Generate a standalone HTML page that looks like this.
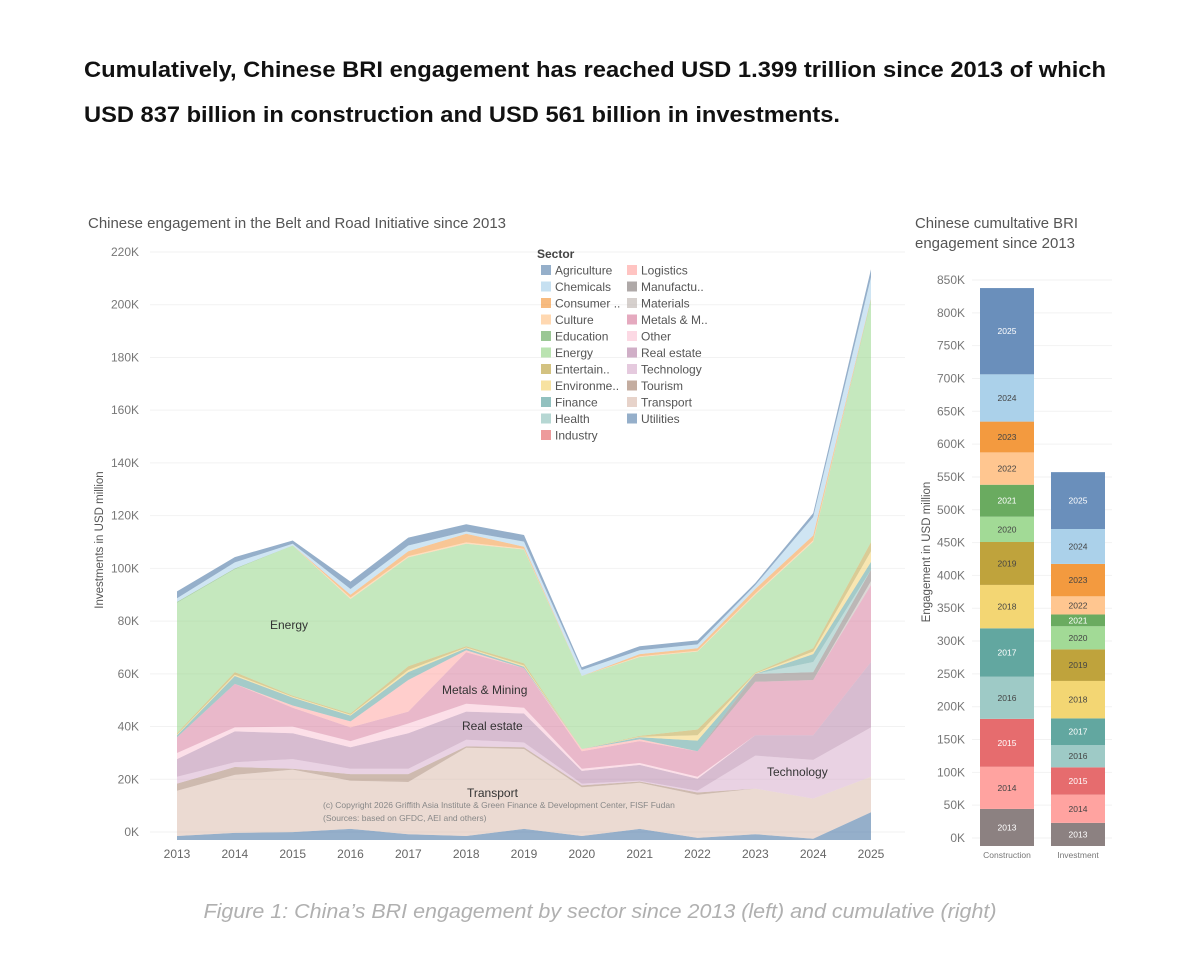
<!DOCTYPE html>
<html><head><meta charset="utf-8"><style>
html,body{margin:0;padding:0;background:#fff;}
svg{display:block;font-family:"Liberation Sans",sans-serif;}
</style></head><body>
<svg id="root" width="1200" height="955" viewBox="0 0 1200 955">
<text x="84" y="77" font-size="22" font-weight="bold" fill="#111" textLength="1022" lengthAdjust="spacingAndGlyphs">Cumulatively, Chinese BRI engagement has reached USD 1.399 trillion since 2013 of which</text>
<text x="84" y="122" font-size="22" font-weight="bold" fill="#111" textLength="756" lengthAdjust="spacingAndGlyphs">USD 837 billion in construction and USD 561 billion in investments.</text>
<text x="88" y="228" font-size="15" fill="#555" textLength="418" lengthAdjust="spacingAndGlyphs">Chinese engagement in the Belt and Road Initiative since 2013</text>
<text x="915" y="228" font-size="15" fill="#555" textLength="163" lengthAdjust="spacingAndGlyphs">Chinese cumultative BRI</text>
<text x="915" y="248" font-size="15" fill="#555" textLength="160" lengthAdjust="spacingAndGlyphs">engagement since 2013</text>
<text transform="translate(103,540) rotate(-90)" text-anchor="middle" font-size="11.5" fill="#555">Investments in USD million</text>
<text transform="translate(930,552) rotate(-90)" text-anchor="middle" font-size="11.5" fill="#555">Engagement in USD million</text>
<g id="left"></g>
<g id="right"></g>
<g id="legend"></g>
<text x="270" y="629" font-size="12" fill="#333">Energy</text>
<text x="442" y="694" font-size="12" fill="#333">Metals &amp; Mining</text>
<text x="462" y="730" font-size="12" fill="#333">Real estate</text>
<text x="467" y="797" font-size="12" fill="#333">Transport</text>
<text x="767" y="776" font-size="12" fill="#333">Technology</text>
<text x="323" y="808" font-size="8.5" fill="#888">(c) Copyright 2026 Griffith Asia Institute &amp; Green Finance &amp; Development Center, FISF Fudan</text>
<text x="323" y="821" font-size="8.5" fill="#888">(Sources: based on GFDC, AEI and others)</text>
<text x="600" y="918" text-anchor="middle" font-size="20" font-style="italic" fill="#b0b0b0" textLength="793" lengthAdjust="spacingAndGlyphs">Figure 1: China’s BRI engagement by sector since 2013 (left) and cumulative (right)</text>
</svg>
<script>
const years=[2013,2014,2015,2016,2017,2018,2019,2020,2021,2022,2023,2024,2025];
const yTicks=[0,20,40,60,80,100,120,140,160,180,200,220];
const sectorNames=["Agriculture","Chemicals","Consumer ..","Culture","Education","Energy","Entertain..","Environme..","Finance","Health","Industry","Logistics","Manufactu..","Materials","Metals & M..","Other","Real estate","Technology","Tourism","Transport","Utilities"];
const sectorColors=["#4e79a7","#a0cbe8","#f28e2b","#ffbe7d","#59a14f","#8cd17d","#b6992d","#f1ce63","#499894","#86bcb6","#e15759","#ff9d9a","#79706e","#bab0ac","#d37295","#fabfd2","#b07aa1","#d4a6c8","#9d7660","#d7b5a6","#4e79a7"];
const agriculture=[2.6,2,1.2,2.8,3,2.8,2.5,1,1.5,1.5,0.8,1.5,3];
const chemicals=[1.4,2.3,0.7,2.2,2.2,0.8,2,2.3,1.5,1.5,1.5,7,8];
const consumer=[0,0,0,1,1.8,3.3,0.7,0,0.8,0.9,1.7,1.8,0.2];
const culture=[0,0,0,0.6,0.5,0.5,0.3,0,0.3,0.3,0.5,0.5,0.2];
const education=[0.3,0.3,0,0,0,0,0,0,0,0,0,0,0.5];
const energy=[49.5,39,57,43.4,41.3,38.9,43.2,27.7,29.9,29.6,29.5,40.5,91.6];
const entertainment=[0.5,1,0.4,0.5,1.4,0.5,0.8,0,0.3,2.2,0.3,1.2,3.5];
const environment=[0.3,0.5,0.3,0.3,0.8,0.3,0.5,0,0.2,2,0.2,1,4];
const finance=[0.7,3,3,2.2,3,0.7,0.5,0,0.8,4,0,3,3];
const health=[0,0,0,0,0,0,0,0,0,0,0,3.8,0];
const industry=[0,0,0,0,0,0,0,0,0,0,0,0,0];
const logistics=[0,0,0.8,2.3,12,0.8,0,0.8,0.7,0,0,0,0];
const manufacturing=[0,0,0,0,0,0,0,0,0,0,3,3,4.3];
const materials=[0,0,0,0,0,0,0,0,0,0,0,0,1.5];
const metals=[6,16.5,7.2,5.2,4.5,19.5,15,6.7,8.3,9.7,20.3,21,29.2];
const other=[2.3,1.5,2.5,2.3,3.7,3,2.2,0.8,0.7,0.8,0,0,0];
const realEstate=[6.7,11.7,9.8,8.2,13.5,10.7,11,4.8,6,4.5,7.7,9.3,24.8];
const technology=[2.6,1.8,3.7,2,2,2.5,1.8,0.7,0.3,0.7,12.5,14.7,18.7];
const tourism=[2.7,3,0.3,2.5,3,0.5,0.7,0.7,0.5,0.8,0,0,0];
const transport=[17.2,22,23.7,18.3,19.8,33.5,30.3,18.5,17.5,16.4,17.3,15.2,13.5];
const utilities=[1.5,2.7,3,4.2,2.2,1.5,4.2,1.5,4.2,0.8,2.2,0.5,10.5];
const sectorSeries=[agriculture,chemicals,consumer,culture,education,energy,entertainment,environment,finance,health,industry,logistics,manufacturing,materials,metals,other,realEstate,technology,tourism,transport,utilities];

const barYears=[2013,2014,2015,2016,2017,2018,2019,2020,2021,2022,2023,2024,2025];
const construction=[55.6,63.2,71.9,63.2,72.6,65.1,64.4,38,47.9,48.5,46.2,70.9,129.4];
const investment=[34.7,42.3,41,33.5,39.9,56.2,47.3,34.7,17.7,27.2,48.6,52.4,85.3];
const barCategories=["Construction","Investment"];
const rTicks=[0,50,100,150,200,250,300,350,400,450,500,550,600,650,700,750,800,850];
const yearColors=["#8c8181","#ffa3a0","#e66c6e","#9ecac6","#62a7a0","#f3d673","#bfa33c","#a2da96","#6aab60","#ffc690","#f39a3f","#abd1ea","#6a8fbb"];
const yearTextColors=["#fff","#444","#fff","#444","#fff","#444","#444","#444","#fff","#444","#444","#444","#fff"];

const NS="http://www.w3.org/2000/svg";
function mk(tag,attrs,parent,text){const e=document.createElementNS(NS,tag);for(const k in attrs)e.setAttribute(k,attrs[k]);if(text!==undefined)e.textContent=text;parent.appendChild(e);return e;}

const xL=i=>177+i*(871-177)/12;
const yL=v=>840-v*(580/220);
const left=document.getElementById('left');
yTicks.forEach(t=>{
  const g=mk('line',{x1:150,x2:905,y1:yL(t)-8,y2:yL(t)-8,stroke:'#f2f2f2','stroke-width':1},left);
  
  
  const l=mk('text',{x:139,y:yL(t)-4,'text-anchor':'end','font-size':12,fill:'#777'},left,t+'K');
  
  
});
years.forEach((yr,i)=>{
  const l=mk('text',{x:xL(i),y:858,'text-anchor':'middle','font-size':12,fill:'#666'},left,String(yr));
  
  
});
let base=years.map(()=>0);
for(let s=sectorSeries.length-1;s>=0;s--){
  const vals=sectorSeries[s];
  const top=base.map((b,i)=>b+vals[i]);
  let d='M'+years.map((_,i)=>xL(i).toFixed(1)+','+yL(top[i]).toFixed(1)).join('L');
  for(let i=years.length-1;i>=0;i--)d+='L'+xL(i).toFixed(1)+','+yL(base[i]).toFixed(1);
  d+='Z';
  const p=mk('path',{d:d,fill:sectorColors[s],'fill-opacity':s===0||s===20?0.6:0.5,stroke:'none'},left);
  
  
  base=top;
}
const legend=document.getElementById('legend');
const lt=mk('text',{x:537,y:258,'font-size':12,'font-weight':'bold',fill:'#444'},legend,'Sector');


sectorNames.forEach((n,i)=>{
  const col=i<11?0:1,row=i<11?i:i-11;
  const x=col?627:541,y=265+row*16.5;
  const r=mk('rect',{x:x,y:y,width:10,height:10,fill:sectorColors[i],'fill-opacity':0.6},legend);
  
  
  const t=mk('text',{x:x+14,y:y+9.5,'font-size':12,fill:'#555'},legend,n);
  
  
});

const right=document.getElementById('right');
const yTickR=v=>846-v*(558/850);
const yR=v=>846-v*(558/837);
rTicks.forEach(t=>{
  const g=mk('line',{x1:972,x2:1112,y1:yTickR(t)-8,y2:yTickR(t)-8,stroke:'#f2f2f2','stroke-width':1},right);
  
  
  const l=mk('text',{x:965,y:yTickR(t)-4,'text-anchor':'end','font-size':12,fill:'#777'},right,t+'K');
  
  
});
[construction,investment].forEach((series,ci)=>{
  const x0=ci?1051:980,w=54;
  let cum=0;
  series.forEach((v,i)=>{
    const r=mk('rect',{x:x0,y:yR(cum+v),width:w,height:yR(cum)-yR(cum+v),fill:yearColors[i]},right);
    
    
    const t=mk('text',{x:x0+w/2,y:yR(cum+v/2)+3,'text-anchor':'middle','font-size':8.5,fill:yearTextColors[i]},right,String(barYears[i]));
    
    
    cum+=v;
  });
  const c=mk('text',{x:x0+w/2,y:858,'text-anchor':'middle','font-size':8.5,fill:'#777'},right,barCategories[ci]);
  
  
});
</script>
</body></html>
